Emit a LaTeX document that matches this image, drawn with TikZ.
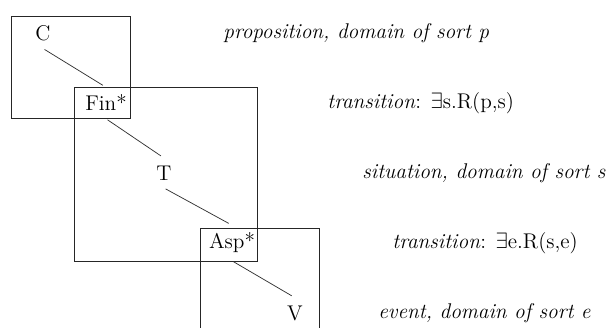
\documentclass[tikz,border=0pt]{standalone}
\usepackage{amsmath}
\usepackage{amssymb}
\usepackage{tikz}
\usetikzlibrary{positioning}

\begin{document}
\begin{tikzpicture}[x=0.54pt,y=-0.54pt,
  font=\fontsize{11.5}{13.5}\selectfont,
  cat/.style={inner sep=4pt},
  gloss/.style={inner sep=0pt,anchor=west},
  sortbox/.style={draw=black!85,line width=0.5pt},
  link/.style={draw=black!80,line width=0.4pt,shorten <=1pt,shorten >=2pt}]
\useasboundingbox (0,0) rectangle (608,327);
\clip (0,0) rectangle (608,327);
% domains
\draw[sortbox] (11,16) rectangle (130,118);
\draw[sortbox] (74,87) rectangle (257,261);
\draw[sortbox] (200,228) rectangle (319,340);
% categories
\node[cat] (c) at (43,33) {C};
\node[cat] (fin) at (106,103) {Fin*};
\node[cat] (t) at (164,173) {T};
\node[cat] (asp) at (232,243) {Asp*};
\node[cat] (v) at (295,313) {V};
\draw[link] (c.south) -- (fin.north);
\draw[link] (fin.south) -- (t.north);
\draw[link] (t.south) -- (asp.north);
\draw[link] (asp.south) -- (v.north);
% glosses
\node[gloss] (gp) at (223,33) {\textit{proposition, domain of sort p}};
\node[gloss] (g1) at (327,103) {\textit{transition}: $\exists$s.R(p,s)};
\node[gloss] (gs) at (362,173) {\textit{situation, domain of sort s}};
\node[gloss] (g2) at (392,243) {\textit{transition}: $\exists$e.R(s,e)};
\node[gloss] (ge) at (378,313) {\textit{event, domain of sort e}};
\end{tikzpicture}
\end{document}
